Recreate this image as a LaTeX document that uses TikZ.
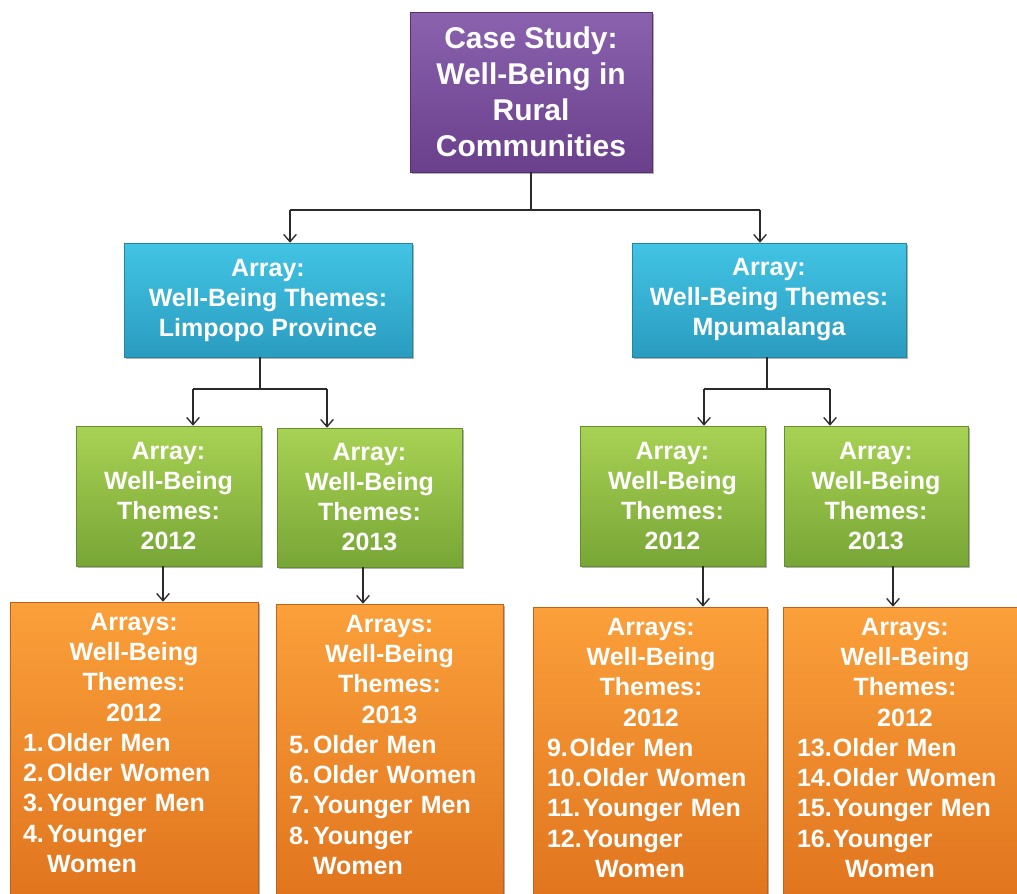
\documentclass[tikz,border=0pt]{standalone}
\usepackage{fontspec}
\setmainfont{Liberation Sans}
\usetikzlibrary{arrows.meta,shadows}
\setlength\parindent{0pt}
\definecolor{purT}{HTML}{8A62AE}
\definecolor{purB}{HTML}{6A3F8C}
\definecolor{bluT}{HTML}{42C4E4}
\definecolor{bluB}{HTML}{2A9CC0}
\definecolor{grnT}{HTML}{A8D254}
\definecolor{grnB}{HTML}{78A636}
\definecolor{orgT}{HTML}{FBA03A}
\definecolor{orgB}{HTML}{E0741E}
\definecolor{lineC}{HTML}{2A2A2A}
\newcommand\nbx[2]{\makebox[#1][l]{#2}}
\begin{document}
\begin{tikzpicture}[x=0.75pt,y=-0.75pt,
  box/.style args={#1/#2}{rectangle, minimum width=#1*0.75pt, minimum height=#2*0.75pt,
    inner sep=0pt, text=white, align=center,
    drop shadow={shadow xshift=1.8pt, shadow yshift=-1.8pt, opacity=0.3, fill=black}},
  pbox/.style={box=#1, top color=purT, bottom color=purB, draw=purB!80!black, line width=0.4pt,
    font=\fontsize{22.5}{27}\selectfont\bfseries},
  bbox/.style={box=#1, top color=bluT, bottom color=bluB, draw=bluB!85!black, line width=0.4pt,
    font=\fontsize{18.75}{22.5}\selectfont\bfseries},
  gbox/.style={box=#1, top color=grnT, bottom color=grnB, draw=grnB!85!black, line width=0.4pt,
    font=\fontsize{18.75}{22.5}\selectfont\bfseries},
  obox/.style={box=#1, top color=orgT, bottom color=orgB, draw=orgB!85!black, line width=0.4pt},
  otext/.style={anchor=north west, inner sep=0pt, text=white, text width=#1*0.75pt,
    font=\fontsize{18.75}{22.7}\selectfont\bfseries},
  conn/.style={draw=lineC, line width=1pt},
  arr/.style={conn, -{Straight Barb[length=5.5pt,width=9.5pt]}}
]
\useasboundingbox (0,0) rectangle (1017,893);

% top
\node[pbox=242/160] (p) at (531,92) {Case Study:\\Well-Being in\\Rural\\Communities};

% blue
\node[bbox=288/114] (bl) at (268,300) {Array:\\Well-Being Themes:\\Limpopo Province};
\node[bbox=274/114] (br) at (769,300) {Array:\\Well-Being Themes:\\Mpumalanga};

% green
\node[gbox=185/140] (g1) at (168.5,496) {Array:\\Well-Being\\Themes:\\2012};
\node[gbox=185/139] (g2) at (369.5,497.5) {Array:\\Well-Being\\Themes:\\2013};
\node[gbox=185/140] (g3) at (672.5,496) {Array:\\Well-Being\\Themes:\\2012};
\node[gbox=184/140] (g4) at (876,496) {Array:\\Well-Being\\Themes:\\2013};

% orange
\node[obox=248/300] (o1) at (134,752) {};
\node[obox=227/298] (o2) at (389.5,753) {};
\node[obox=234/295] (o3) at (650,754.5) {};
\node[obox=242/295] (o4) at (904,754.5) {};

\node[otext=222] (t1) at ([shift={(13,11)}]o1.north west) {%
{\centering Arrays:\\Well-Being\\Themes:\\2012\par}%
\nbx{18pt}{1.}Older Men\\
\nbx{18pt}{2.}Older Women\\
\nbx{18pt}{3.}Younger Men\\
\nbx{18pt}{4.}Younger\\
\hspace*{18pt}Women};
\node[otext=201] (t2) at ([shift={(13,11)}]o2.north west) {%
{\centering Arrays:\\Well-Being\\Themes:\\2013\par}%
\nbx{18pt}{5.}Older Men\\
\nbx{18pt}{6.}Older Women\\
\nbx{18pt}{7.}Younger Men\\
\nbx{18pt}{8.}Younger\\
\hspace*{18pt}Women};
\node[otext=208] (t3) at ([shift={(14,11)}]o3.north west) {%
{\centering Arrays:\\Well-Being\\Themes:\\2012\par}%
\nbx{17pt}{9.}Older Men\\
\nbx{27pt}{10.}Older Women\\
\nbx{27pt}{11.}Younger Men\\
\nbx{27pt}{12.}Younger\\
\hspace*{36pt}Women};
\node[otext=216] (t4) at ([shift={(14,11)}]o4.north west) {%
{\centering Arrays:\\Well-Being\\Themes:\\2012\par}%
\nbx{27pt}{13.}Older Men\\
\nbx{27pt}{14.}Older Women\\
\nbx{27pt}{15.}Younger Men\\
\nbx{27pt}{16.}Younger\\
\hspace*{36pt}Women};

% connectors top -> blue
\coordinate (kl) at (290,210);
\coordinate (kr) at (760,210);
\draw[conn] (p.south) -- (p.south |- kl);
\draw[conn] (kl) -- (kr);
\draw[arr] (kl) -- (kl |- bl.north);
\draw[arr] (kr) -- (kr |- br.north);

% blue left -> greens
\coordinate (ml) at (260,389);
\coordinate (ml1) at (193,389);
\coordinate (ml2) at (327,389);
\draw[conn] (ml |- bl.south) -- (ml);
\draw[conn] (ml1) -- (ml2);
\draw[arr] (ml1) -- (ml1 |- g1.north);
\draw[arr] (ml2) -- (ml2 |- g2.north);

% blue right -> greens
\coordinate (mr) at (767,389);
\coordinate (mr1) at (704,389);
\coordinate (mr2) at (830,389);
\draw[conn] (mr |- br.south) -- (mr);
\draw[conn] (mr1) -- (mr2);
\draw[arr] (mr1) -- (mr1 |- g3.north);
\draw[arr] (mr2) -- (mr2 |- g4.north);

% green -> orange
\coordinate (c1) at (163,0);
\coordinate (c2) at (363,0);
\coordinate (c3) at (703,0);
\coordinate (c4) at (893,0);
\draw[arr] (c1 |- g1.south) -- (c1 |- o1.north);
\draw[arr] (c2 |- g2.south) -- (c2 |- o2.north);
\draw[arr] (c3 |- g3.south) -- (c3 |- o3.north);
\draw[arr] (c4 |- g4.south) -- (c4 |- o4.north);
\end{tikzpicture}
\end{document}
